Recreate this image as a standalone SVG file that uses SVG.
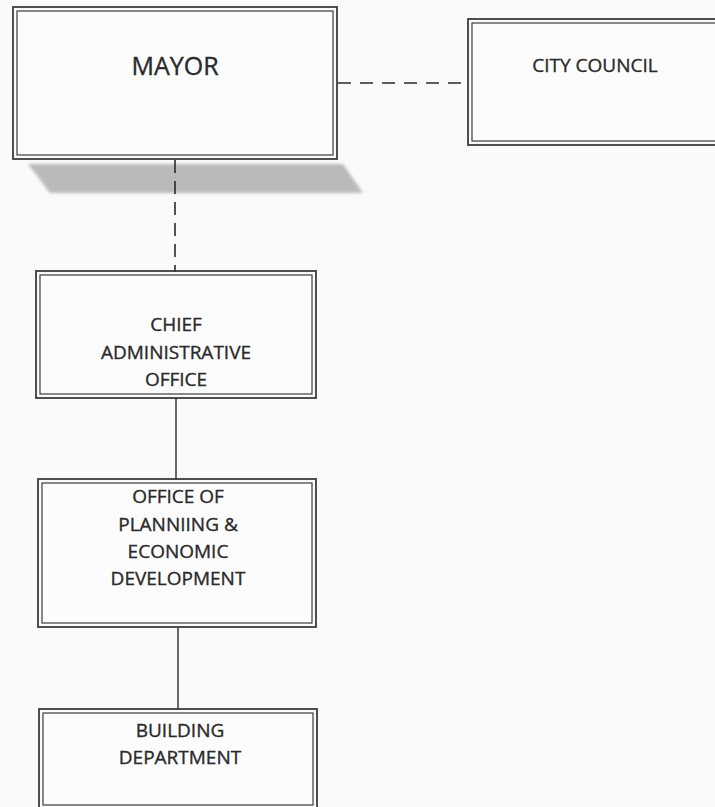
<svg xmlns="http://www.w3.org/2000/svg" width="715" height="807" viewBox="0 0 715 807">
<defs>
<style>
.bg{fill:#fafafa}
.outer{fill:none;stroke:#3c3c3c;stroke-width:1.8}
.inner{fill:#fcfcfc;stroke:#3c3c3c;stroke-width:1.2}
.t{font-family:"Open Sans","Liberation Sans",sans-serif;fill:#2a2a2a;stroke:#2a2a2a;stroke-width:0.35;text-anchor:middle}
.solid{stroke:#2a2a2a;stroke-width:1.4;fill:none}
.dash{stroke:#2a2a2a;stroke-width:1.6;fill:none;stroke-dasharray:13 9}
</style>
<filter id="blur" x="-10%" y="-50%" width="120%" height="200%"><feGaussianBlur stdDeviation="1.8"/></filter>
</defs>
<rect class="bg" x="0" y="0" width="715" height="807"/>
<polygon points="28,164 343,164 363,193 50,193" fill="#b0b0b0" opacity="0.85" filter="url(#blur)"/>
<g id="connectors">
<line class="dash" x1="337" y1="83" x2="468" y2="83" style="stroke-dashoffset:-1"/>
<line class="dash" x1="175" y1="160" x2="175" y2="272" style="stroke-dasharray:13 8"/>
<line class="solid" x1="176" y1="398" x2="176" y2="480"/>
<line class="solid" x1="178" y1="627" x2="178" y2="710"/>
</g>
<g id="mayor">
<rect class="outer" x="13" y="7" width="324" height="152"/>
<rect class="inner" x="17" y="11" width="316" height="144"/>
<text class="t" x="175" y="75" font-size="25">MAYOR</text>
</g>
<g id="city-council">
<rect class="outer" x="468" y="19" width="260" height="126"/>
<rect class="inner" x="472" y="23" width="252" height="118"/>
<text class="t" x="595" y="72" font-size="19">CITY COUNCIL</text>
</g>
<g id="chief-administrative-office">
<rect class="outer" x="36" y="271" width="280" height="127"/>
<rect class="inner" x="40" y="275" width="272" height="119"/>
<text class="t" font-size="19"><tspan x="176" y="331">CHIEF</tspan><tspan x="176" y="359">ADMINISTRATIVE</tspan><tspan x="176" y="386">OFFICE</tspan></text>
</g>
<g id="planning-economic-development">
<rect class="outer" x="38" y="479" width="278" height="148"/>
<rect class="inner" x="42" y="483" width="270" height="140"/>
<text class="t" font-size="19"><tspan x="178" y="503">OFFICE OF</tspan><tspan x="178" y="531">PLANNIING &amp;</tspan><tspan x="178" y="558">ECONOMIC</tspan><tspan x="178" y="585">DEVELOPMENT</tspan></text>
</g>
<g id="building-department">
<rect class="outer" x="39" y="709" width="278" height="100"/>
<rect class="inner" x="43" y="713" width="270" height="92"/>
<text class="t" font-size="19"><tspan x="180" y="737">BUILDING</tspan><tspan x="180" y="764">DEPARTMENT</tspan></text>
</g>
</svg>
